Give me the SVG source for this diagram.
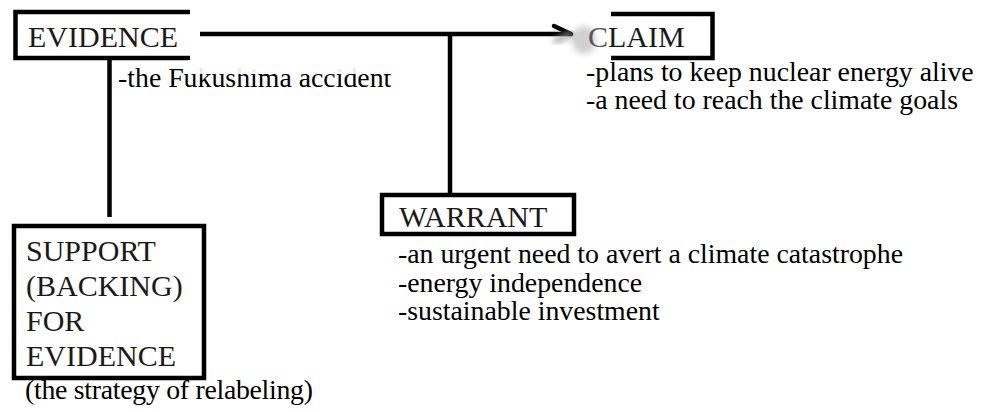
<svg xmlns="http://www.w3.org/2000/svg" width="985" height="412" viewBox="0 0 985 412">
  <style>
    .box { fill: #ffffff; stroke: #000000; stroke-width: 4.5; stroke-linejoin: miter; }
    .edge { fill: none; stroke: #000000; stroke-width: 4.5; }
    .head { font-family: "Liberation Serif", "Times New Roman", serif; font-size: 30px; fill: #1a1a1a; }
    .body { font-family: "Liberation Serif", "Times New Roman", serif; font-size: 27.8px; fill: #000000; }
  </style>
  <defs>
    <filter id="soft" x="-50%" y="-50%" width="200%" height="200%">
      <feGaussianBlur stdDeviation="3"/>
    </filter>
    <marker id="barb" markerUnits="userSpaceOnUse" markerWidth="24" markerHeight="24" refX="20" refY="12" orient="auto" overflow="visible">
      <path d="M20,12 L3,4" fill="none" stroke="#000" stroke-width="4.5" stroke-linecap="round"/>
      <path d="M20,12 L5,19" fill="none" stroke="#9a9a9a" stroke-width="5" stroke-linecap="round" filter="url(#soft)"/>
    </marker>
  </defs>

  <rect width="985" height="412" fill="#ffffff"/>

  <!-- connectors -->
  <g id="connectors">
    <line class="edge" x1="200" y1="34" x2="571" y2="34" marker-end="url(#barb)"/>
    <line class="edge" x1="450" y1="34" x2="450" y2="194"/>
    <line class="edge" x1="109.5" y1="58" x2="109.5" y2="217"/>
  </g>

  <!-- EVIDENCE: right side left open -->
  <g id="evidence">
    <path class="box" d="M190,12 H15.5 V58 H190"/>
    <text class="head" x="28" y="47" textLength="150">EVIDENCE</text>
    <text class="body" x="118" y="87">-the Fukushima accident</text>
    <!-- light band clipping the tops of the letters -->
    <rect x="188" y="60" width="222" height="14" fill="#ffffff" opacity="0.9"/>
  </g>

  <!-- CLAIM: left side left open, soft smudge by the arrow tip -->
  <g id="claim">
    <ellipse cx="584" cy="40" rx="12" ry="14" fill="#000" opacity="0.18" filter="url(#soft)"/>
    <path class="box" d="M611,14 H712.5 V58 H611"/>
    <text class="head" x="588" y="47"><tspan fill="#555">C</tspan>LAIM</text>
    <text class="body" x="586" y="81">-plans to keep nuclear energy alive</text>
    <text class="body" x="586" y="109">-a need to reach the climate goals</text>
  </g>

  <!-- WARRANT -->
  <g id="warrant">
    <rect class="box" x="382" y="195" width="192" height="39"/>
    <text class="head" x="399" y="227">WARRANT</text>
    <text class="body" x="398" y="263">-an urgent need to avert a climate catastrophe</text>
    <text class="body" x="398" y="292">-energy independence</text>
    <text class="body" x="398" y="320">-sustainable investment</text>
  </g>

  <!-- SUPPORT (BACKING) FOR EVIDENCE -->
  <g id="support">
    <rect class="box" x="14" y="226" width="190" height="152"/>
    <text class="head" x="26" y="261">SUPPORT</text>
    <text class="head" x="26" y="296">(BACKING)</text>
    <text class="head" x="26" y="331">FOR</text>
    <text class="head" x="26" y="366">EVIDENCE</text>
    <text class="body" x="25" y="399" textLength="288">(the strategy of relabeling)</text>
  </g>
</svg>
